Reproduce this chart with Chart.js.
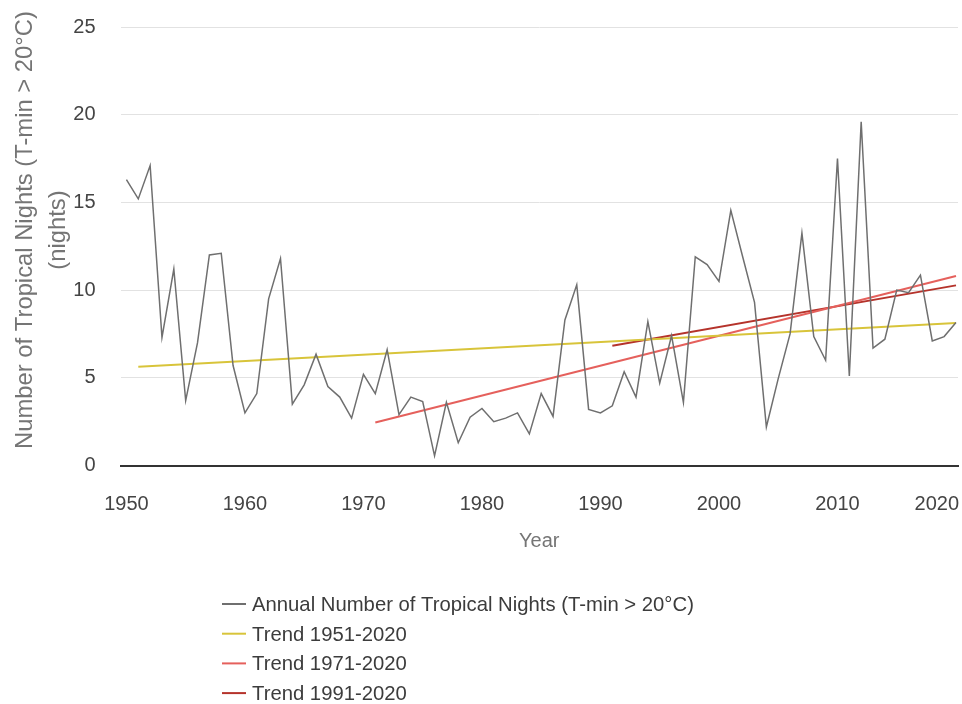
<!DOCTYPE html>
<html>
<head>
<meta charset="utf-8">
<title>Tropical Nights</title>
<script src="https://cdn.jsdelivr.net/npm/chart.js@4.4.1/dist/chart.umd.min.js"></script>
<style>
  html, body { margin: 0; padding: 0; background: #ffffff; }
  #wrap { width: 962px; height: 704px; }
</style>
</head>
<body>
<div id="wrap"><canvas id="chart" width="962" height="704"></canvas></div>
<script>
// Annual count of tropical nights (minimum temperature above 20 °C)
const years = [
  1950, 1951, 1952, 1953, 1954, 1955, 1956, 1957, 1958, 1959,
  1960, 1961, 1962, 1963, 1964, 1965, 1966, 1967, 1968, 1969,
  1970, 1971, 1972, 1973, 1974, 1975, 1976, 1977, 1978, 1979,
  1980, 1981, 1982, 1983, 1984, 1985, 1986, 1987, 1988, 1989,
  1990, 1991, 1992, 1993, 1994, 1995, 1996, 1997, 1998, 1999,
  2000, 2001, 2002, 2003, 2004, 2005, 2006, 2007, 2008, 2009,
  2010, 2011, 2012, 2013, 2014, 2015, 2016, 2017, 2018, 2019,
  2020
];
const tropicalNights = [
  16.3, 15.2, 17.1, 7.3, 11.2, 3.7, 7.0, 12.0, 12.1, 5.7,
  3.0, 4.1, 9.5, 11.8, 3.5, 4.6, 6.35, 4.5, 3.9, 2.7,
  5.2, 4.1, 6.6, 2.9, 3.9, 3.65, 0.55, 3.6, 1.3, 2.75,
  3.25, 2.5, 2.7, 3.0, 1.8, 4.1, 2.8, 8.3, 10.3, 3.2,
  3.0, 3.4, 5.35, 3.9, 8.2, 4.7, 7.4, 3.6, 11.9, 11.45,
  10.5, 14.55, 11.9, 9.3, 2.2, 4.95, 7.5, 13.25, 7.35, 6.0,
  17.5, 5.1, 19.6, 6.7, 7.2, 10.0, 9.85, 10.85, 7.1, 7.35,
  8.15
];

// Linear trend lines: start and end year, with their fitted values
const trend1951Years = [1951, 2020];
const trend1951Values = [5.63, 8.12];
const trend1971Years = [1971, 2020];
const trend1971Values = [2.45, 10.8];
const trend1991Years = [1991, 2020];
const trend1991Values = [6.83, 10.27];

// Axis ticks and labels
const xTickYears = [1950, 1960, 1970, 1980, 1990, 2000, 2010, 2020];
const yTicks = [0, 5, 10, 15, 20, 25];
const xTitle = 'Year';
const yTitleLines = ['Number of Tropical Nights (T-min > 20°C)', '(nights)'];

const seriesNames = [
  'Annual Number of Tropical Nights (T-min > 20°C)',
  'Trend 1951-2020',
  'Trend 1971-2020',
  'Trend 1991-2020'
];

const FONT = "'Liberation Sans', Arial, sans-serif";

function toPoints(xs, ys) {
  return xs.map((x, i) => ({ x: x, y: ys[i] }));
}

// Draws x tick labels, axis titles and the stacked legend on the canvas
const annotations = {
  id: 'annotations',
  afterDraw(chart) {
    const ctx = chart.ctx;
    const area = chart.chartArea;
    const xs = chart.scales.x;
    ctx.save();

    // x tick labels (the last one is kept inside the plot edge)
    ctx.font = '20px ' + FONT;
    ctx.fillStyle = '#444444';
    ctx.textBaseline = 'alphabetic';
    ctx.textAlign = 'left';
    xTickYears.forEach(yr => {
      const label = String(yr);
      const w = ctx.measureText(label).width;
      let left = xs.getPixelForValue(yr) - w / 2;
      if (left + w > area.right + 1) left = area.right + 1 - w;
      ctx.fillText(label, left, 510);
    });

    // x axis title
    ctx.fillStyle = '#757575';
    ctx.textAlign = 'center';
    ctx.fillText(xTitle, (area.left + area.right) / 2, 547);

    // y axis title, two rotated lines
    ctx.font = '23.8px ' + FONT;
    ctx.textBaseline = 'middle';
    const cy = 230;
    const lineXs = [25, 58];
    yTitleLines.forEach((t, i) => {
      ctx.save();
      ctx.translate(lineXs[i], cy);
      ctx.rotate(-Math.PI / 2);
      ctx.fillText(t, 0, 0);
      ctx.restore();
    });

    // legend, one entry per row
    ctx.font = '20.3px ' + FONT;
    ctx.textAlign = 'left';
    ctx.textBaseline = 'alphabetic';
    chart.data.datasets.forEach((ds, i) => {
      const y = 604 + i * 29.7;
      ctx.strokeStyle = ds.borderColor;
      ctx.lineWidth = 2;
      ctx.beginPath();
      ctx.moveTo(222, y);
      ctx.lineTo(246, y);
      ctx.stroke();
      ctx.fillStyle = '#3c3c3c';
      ctx.fillText(ds.label, 252, y + 7);
    });

    ctx.restore();
  }
};

new Chart(document.getElementById('chart'), {
  type: 'line',
  data: {
    datasets: [
      {
        label: seriesNames[0],
        data: toPoints(years, tropicalNights),
        borderColor: '#6f6f6f',
        borderWidth: 1.5,
        pointRadius: 0,
        tension: 0
      },
      {
        label: seriesNames[1],
        data: toPoints(trend1951Years, trend1951Values),
        borderColor: '#d8c43a',
        borderWidth: 2,
        pointRadius: 0
      },
      {
        label: seriesNames[2],
        data: toPoints(trend1971Years, trend1971Values),
        borderColor: '#e5605c',
        borderWidth: 2,
        pointRadius: 0
      },
      {
        label: seriesNames[3],
        data: toPoints(trend1991Years, trend1991Values),
        borderColor: '#b5332b',
        borderWidth: 2,
        pointRadius: 0
      }
    ]
  },
  options: {
    responsive: false,
    animation: false,
    devicePixelRatio: 1,
    layout: { padding: { top: 27, right: 4, bottom: 238.5, left: 0 } },
    plugins: {
      legend: { display: false },
      tooltip: { enabled: false }
    },
    scales: {
      x: {
        type: 'linear',
        min: 1949.5,
        max: 2020.17,
        grid: { display: false },
        border: { display: true, color: '#333333', width: 2 },
        ticks: { display: false },
        afterFit(scale) {
          scale.height = 0;
          scale.paddingLeft = 0;
          scale.paddingRight = 0;
        }
      },
      y: {
        min: 0,
        max: 25,
        afterBuildTicks(scale) { scale.ticks = yTicks.map(v => ({ value: v })); },
        grid: { color: '#e2e2e2', lineWidth: 1, drawTicks: false },
        border: { display: false },
        ticks: {
          padding: 25,
          color: '#444444',
          font: { family: FONT, size: 20 }
        },
        afterFit(scale) {
          scale.width = 120.5;
          scale.paddingTop = 0;
          scale.paddingBottom = 0;
        }
      }
    }
  },
  plugins: [annotations]
});
</script>
</body>
</html>
